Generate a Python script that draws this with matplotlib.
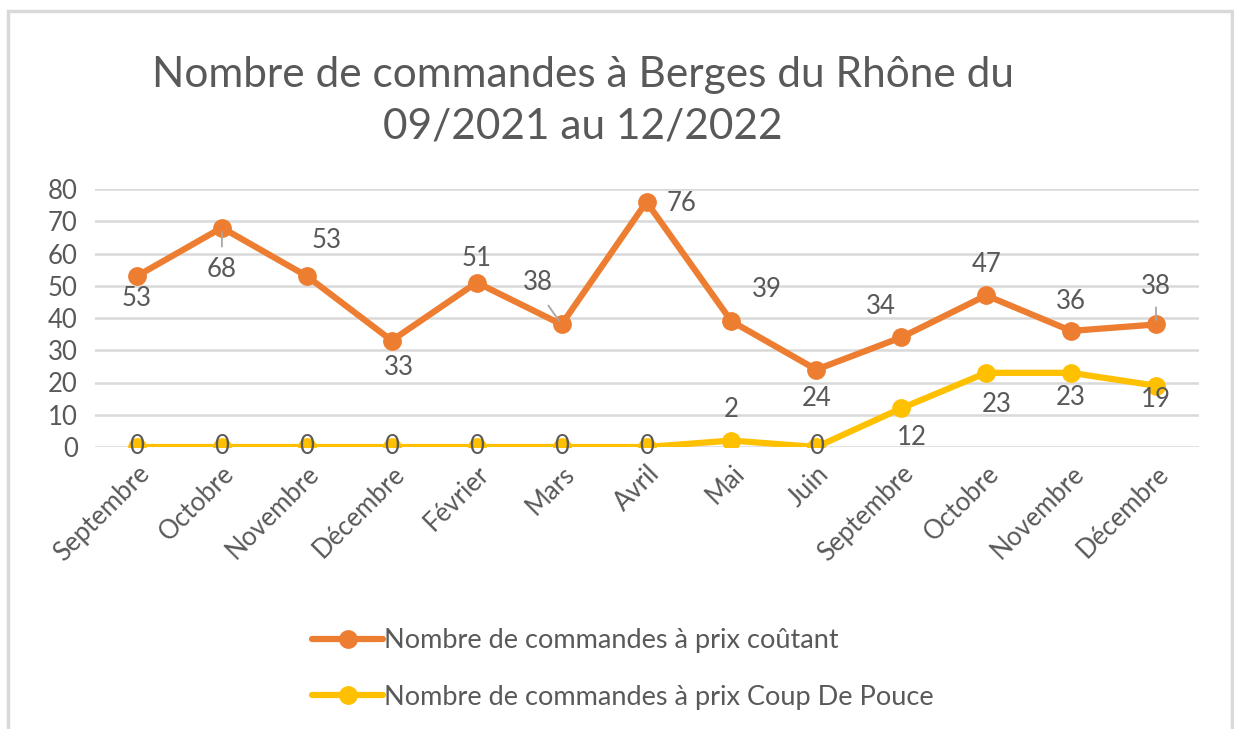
import matplotlib
matplotlib.use("Agg")
import matplotlib.pyplot as plt
from matplotlib.patches import Rectangle

plt.rcParams['font.family'] = ['Lato', 'DejaVu Sans']

months = ["Septembre", "Octobre", "Novembre", "Décembre", "Février", "Mars",
          "Avril", "Mai", "Juin", "Septembre", "Octobre", "Novembre", "Décembre"]
cout = [53, 68, 53, 33, 51, 38, 76, 39, 24, 34, 47, 36, 38]
pouce = [0, 0, 0, 0, 0, 0, 0, 2, 0, 12, 23, 23, 19]
yticks = [0, 10, 20, 30, 40, 50, 60, 70, 80]

title = "Nombre de commandes à Berges du Rhône du\n09/2021 au 12/2022"
label_cout = "Nombre de commandes à prix coûtant"
label_pouce = "Nombre de commandes à prix Coup De Pouce"

ORANGE = "#ED7D31"
YELLOW = "#FFC000"
TXT = "#595959"
GRID = "#D9D9D9"
FS = 18.5

# label offsets in pixels (dx, dy) and leader flag
off_cout = [(0, -22, False), (0, -42, True), (20, 36, False), (7, -27, False),
            (0, 24, False), (-24, 42, True), (35, -2, False), (35, 32, False),
            (0, -29, False), (-20, 31, False), (0, 31, False), (0, 29, False),
            (0, 38, True)]
off_pouce = [(0, 0), (0, 0), (0, 0), (0, 0), (0, 0), (0, 0), (0, 0),
             (0, 31), (0, 0), (11, -29), (10, -32), (0, -25), (0, -14)]

fig = plt.figure(figsize=(12.34, 7.29), dpi=100)
ax = fig.add_axes([94.5 / 1234, 282 / 729, (1198.5 - 94.5) / 1234, (447 - 189) / 729])

x = list(range(len(months)))
ax.plot(x, cout, color=ORANGE, lw=4.5, marker='o', ms=12.5, zorder=3,
        solid_capstyle='round', label=label_cout)
ax.plot(x, pouce, color=YELLOW, lw=4.5, marker='o', ms=12.5, zorder=3,
        solid_capstyle='round', label=label_pouce)

ax.set_xlim(-0.5, len(months) - 0.5)
ax.set_ylim(0, 80)
ax.set_yticks(yticks)
ax.yaxis.grid(True, color=GRID, lw=1.8)
ax.set_axisbelow(True)
for s in ax.spines.values():
    s.set_visible(False)
ax.tick_params(axis='both', length=0, labelsize=FS, labelcolor=TXT)
ax.tick_params(axis='y', pad=12)
ax.set_xticks(x)
ax.set_xticklabels(months, rotation=45, ha='right', va='top', rotation_mode='anchor')
ax.tick_params(axis='x', pad=10)

for i, (v, (dx, dy, lead)) in enumerate(zip(cout, off_cout)):
    ax.annotate(str(v), (i, v), xytext=(dx, dy), textcoords='offset pixels',
                ha='center', va='center', fontsize=FS, color=TXT, zorder=5)
    if lead:
        ax.annotate("", (i, v), xytext=(dx * 0.55, dy * 0.45), textcoords='offset pixels',
                    arrowprops=dict(arrowstyle='-', color='#A6A6A6', lw=1.3,
                                    shrinkA=0, shrinkB=3), zorder=4)

for i, (v, (dx, dy)) in enumerate(zip(pouce, off_pouce)):
    ax.annotate(str(v), (i, v), xytext=(dx, dy), textcoords='offset pixels',
                ha='center', va='center', fontsize=FS, color=TXT, zorder=5)

fig.text(583 / 1234, 1 - 101 / 729, title, ha='center', va='center',
         fontsize=30.5, color=TXT, linespacing=1.42)

leg = fig.legend(loc='upper left', bbox_to_anchor=(288 / 1234, 1 - 604 / 729),
                 frameon=False, fontsize=19.5, labelcolor=TXT, handlelength=2.6,
                 handletextpad=0.05, labelspacing=1.15)

fig.patches.append(Rectangle((8 / 1234, -0.05), (1224) / 1234, 1.05 - 11 / 729,
                             transform=fig.transFigure, fill=False,
                             edgecolor=GRID, lw=2.5))

fig.savefig("out.png", dpi=100, facecolor='white')
